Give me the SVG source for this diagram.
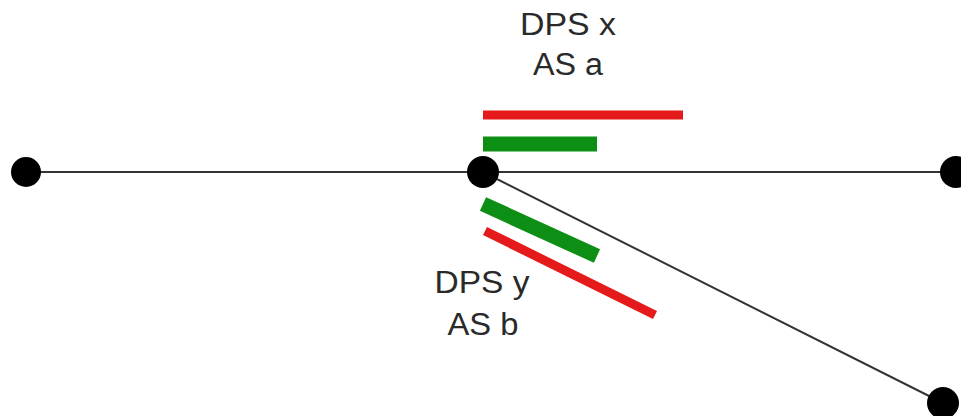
<svg xmlns="http://www.w3.org/2000/svg" width="961" height="416" viewBox="0 0 961 416">
  <style>
    .lbl { font-family: "Liberation Sans", Arial, sans-serif; font-size: 31px; fill: #2a2a2a; text-anchor: middle; }
    .edge { stroke: #333; stroke-width: 2; fill: none; }
    .red { stroke: #e51b1b; stroke-width: 9; stroke-linecap: butt; }
    .green { stroke: #0c8f14; stroke-width: 15; stroke-linecap: butt; }
    .node { fill: #000; }
  </style>
  <rect width="961" height="416" fill="#fff"/>
  <g id="connectors">
    <line class="edge" x1="26" y1="172" x2="955" y2="172"/>
    <line class="edge" x1="483" y1="172" x2="943" y2="403"/>
  </g>
  <g id="route-x">
    <line class="red" x1="483" y1="115" x2="683" y2="115"/>
    <line class="green" x1="483" y1="144" x2="597" y2="144"/>
    <text class="lbl" x="568" y="35" textLength="96" lengthAdjust="spacingAndGlyphs">DPS x</text>
    <text class="lbl" x="568" y="75" textLength="70" lengthAdjust="spacingAndGlyphs">AS a</text>
  </g>
  <g id="route-y">
    <line class="green" x1="483" y1="204" x2="597" y2="256"/>
    <line class="red" x1="485" y1="231" x2="655" y2="315"/>
    <text class="lbl" x="482" y="293" textLength="95" lengthAdjust="spacingAndGlyphs">DPS y</text>
    <text class="lbl" x="483" y="335" textLength="71" lengthAdjust="spacingAndGlyphs">AS b</text>
  </g>
  <g id="node-left"><circle class="node" cx="26" cy="172" r="15"/></g>
  <g id="node-center"><circle class="node" cx="483" cy="172" r="16"/></g>
  <g id="node-right"><circle class="node" cx="956" cy="172" r="16"/></g>
  <g id="node-bottom"><circle class="node" cx="943" cy="403" r="16"/></g>
</svg>
